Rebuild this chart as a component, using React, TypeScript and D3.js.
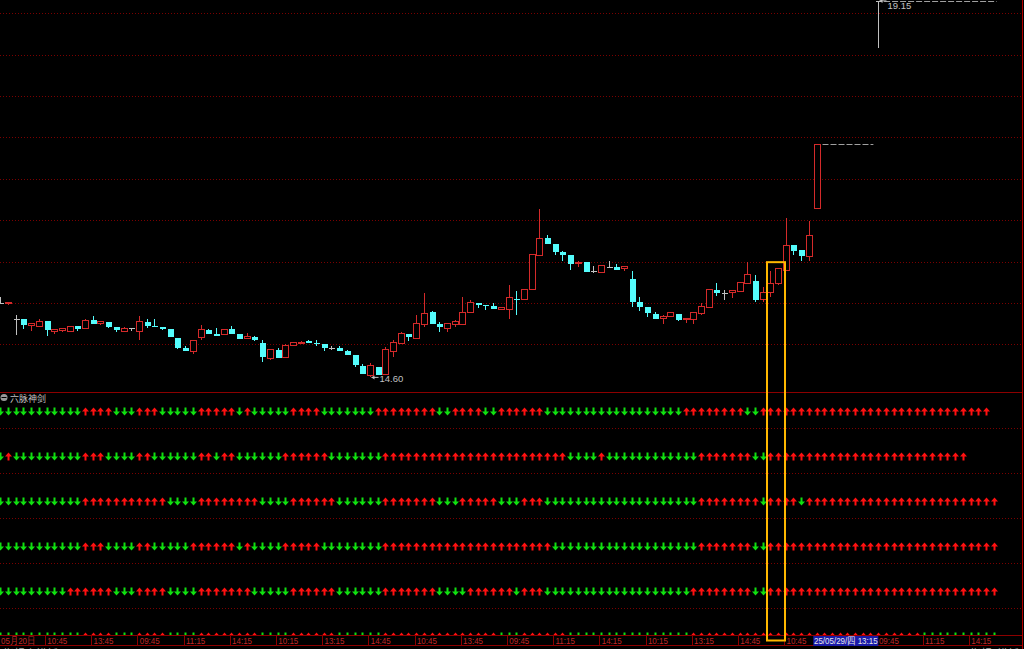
import { useMemo } from 'react';
import * as d3 from 'd3';

const W = 1024;
const H = 649;

// 15-minute candles. Slots 0..106 are consecutive, the last candle sits in slot 114
const opens = [
  15.5, 15.49, 15.3, 15.31, 15.23, 15.22, 15.28, 15.15, 15.17, 15.16, 15.22, 15.19, 15.29, 15.25, 15.27, 15.21,
  15.16, 15.2, 15.15, 15.27, 15.22, 15.21, 15.19, 15.08, 14.96, 14.91, 15.08, 15.17, 15.13, 15.12, 15.19, 15.12,
  15.07, 15.09, 15.01, 14.83, 14.93, 14.84, 14.99, 15.01, 15.04, 15.02, 15.0, 14.95, 14.96, 14.92, 14.87, 14.74,
  14.62, 14.73, 14.64, 14.91, 15.01, 15.13, 15.07, 15.24, 15.39, 15.25, 15.19, 15.24, 15.24, 15.39, 15.5, 15.48,
  15.46, 15.42, 15.42, 15.55, 15.54, 15.66, 16.07, 16.28, 16.21, 16.12, 16.08, 15.98, 15.99, 15.89, 15.87, 15.93,
  15.94, 15.91, 15.79, 15.51, 15.45, 15.37, 15.31, 15.33, 15.37, 15.3, 15.3, 15.37, 15.45, 15.66, 15.62, 15.62,
  15.64, 15.74, 15.77, 15.54, 15.62, 15.74, 15.89, 16.2, 16.14, 16.06, 16.64, 19.15,
];
const highs = [
  15.57, 15.51, 15.35, 15.31, 15.25, 15.3, 15.28, 15.18, 15.19, 15.22, 15.22, 15.3, 15.34, 15.27, 15.27, 15.21,
  15.21, 15.2, 15.34, 15.31, 15.31, 15.21, 15.19, 15.08, 14.98, 15.04, 15.23, 15.19, 15.2, 15.19, 15.22, 15.12,
  15.14, 15.1, 15.05, 14.94, 14.96, 15.0, 15.03, 15.04, 15.05, 15.05, 15.0, 14.98, 14.98, 14.93, 14.87, 14.76,
  14.77, 14.73, 14.97, 15.05, 15.15, 15.13, 15.35, 15.62, 15.4, 15.27, 15.25, 15.29, 15.57, 15.54, 15.5, 15.48,
  15.5, 15.44, 15.72, 15.64, 15.66, 16.08, 16.64, 16.32, 16.21, 16.13, 16.08, 16.01, 15.99, 15.95, 15.95, 16.01,
  15.97, 15.95, 15.89, 15.57, 15.45, 15.39, 15.36, 15.39, 15.37, 15.31, 15.38, 15.5, 15.67, 15.74, 15.66, 15.65,
  15.75, 16.0, 15.84, 15.69, 15.89, 15.92, 16.53, 16.2, 16.14, 16.49, 17.42, 19.15,
];
const lows = [
  15.49, 15.47, 15.11, 15.18, 15.16, 15.22, 15.1, 15.12, 15.15, 15.16, 15.16, 15.19, 15.25, 15.23, 15.2, 15.15,
  15.16, 15.16, 15.05, 15.2, 15.21, 15.17, 15.09, 14.94, 14.92, 14.88, 15.05, 15.13, 15.1, 15.12, 15.12, 15.06,
  15.07, 15.04, 14.79, 14.81, 14.83, 14.84, 14.98, 15.01, 15.01, 14.98, 14.92, 14.93, 14.92, 14.87, 14.72, 14.64,
  14.6, 14.63, 14.64, 14.85, 15.01, 15.04, 15.07, 15.21, 15.25, 15.15, 15.15, 15.21, 15.24, 15.39, 15.44, 15.42,
  15.43, 15.42, 15.31, 15.35, 15.54, 15.66, 16.07, 16.21, 16.08, 16.01, 15.9, 15.93, 15.87, 15.86, 15.87, 15.93,
  15.9, 15.89, 15.45, 15.4, 15.33, 15.31, 15.25, 15.33, 15.28, 15.26, 15.25, 15.35, 15.45, 15.58, 15.54, 15.56,
  15.64, 15.74, 15.51, 15.51, 15.57, 15.72, 15.89, 16.08, 16.01, 16.01, 16.64, 18.58,
];
const closes = [
  15.5, 15.51, 15.3, 15.23, 15.25, 15.27, 15.17, 15.18, 15.19, 15.22, 15.19, 15.29, 15.25, 15.27, 15.21, 15.17,
  15.19, 15.2, 15.27, 15.22, 15.21, 15.18, 15.09, 14.96, 14.92, 15.04, 15.18, 15.13, 15.1, 15.18, 15.12, 15.06,
  15.1, 15.05, 14.85, 14.94, 14.83, 14.99, 15.02, 15.02, 15.01, 15.01, 14.96, 14.95, 14.92, 14.87, 14.75, 14.64,
  14.74, 14.63, 14.94, 15.02, 15.13, 15.09, 15.25, 15.37, 15.25, 15.21, 15.25, 15.27, 15.39, 15.5, 15.47, 15.47,
  15.43, 15.44, 15.56, 15.54, 15.66, 16.08, 16.28, 16.21, 16.12, 16.08, 15.97, 15.99, 15.87, 15.89, 15.95, 15.93,
  15.9, 15.94, 15.51, 15.45, 15.38, 15.31, 15.34, 15.38, 15.29, 15.31, 15.38, 15.46, 15.66, 15.62, 15.62, 15.65,
  15.75, 15.84, 15.54, 15.62, 15.74, 15.91, 16.19, 16.13, 16.07, 16.31, 17.42, 19.15,
];
const candleSlots = [...d3.range(107), 114];

// daily limit-up price, drawn from the last candle of the session to the session end
const limitLines = [
  { price: 17.42, from: 106, to: 113 },
  { price: 19.15, from: 114, to: 129 },
];

const priceGrid = [15, 15.5, 16, 16.5, 17, 17.5, 18, 18.5, 19];

// 六脉神剑 signal rows, run-length: [U=up/red, D=down/green, count]
const sigRows: { level: number; runs: [string, number][] }[] = [
  { level: 6, runs: [['D', 11], ['U', 4], ['D', 3], ['U', 3], ['D', 5], ['U', 5], ['D', 1], ['U', 1], ['D', 5], ['U', 4], ['D', 7], ['U', 8], ['D', 2], ['U', 4], ['D', 2], ['U', 6], ['D', 18], ['U', 8], ['D', 2], ['U', 30]] },
  { level: 5, runs: [['D', 1], ['U', 1], ['D', 9], ['U', 3], ['D', 4], ['U', 2], ['D', 6], ['U', 2], ['D', 1], ['U', 2], ['D', 6], ['U', 6], ['D', 7], ['U', 24], ['D', 4], ['U', 1], ['D', 12], ['U', 7], ['D', 2], ['U', 26]] },
  { level: 4, runs: [['D', 11], ['U', 11], ['D', 4], ['U', 8], ['D', 4], ['U', 6], ['D', 6], ['U', 7], ['D', 3], ['U', 5], ['D', 3], ['U', 3], ['D', 20], ['U', 8], ['D', 1], ['U', 4], ['D', 1], ['U', 25]] },
  { level: 3, runs: [['D', 11], ['U', 3], ['D', 4], ['U', 2], ['D', 5], ['U', 6], ['D', 1], ['U', 1], ['D', 4], ['U', 5], ['D', 8], ['U', 22], ['D', 19], ['U', 7], ['D', 2], ['U', 30]] },
  { level: 2, runs: [['D', 9], ['U', 6], ['D', 3], ['U', 4], ['D', 4], ['U', 7], ['D', 5], ['U', 6], ['D', 6], ['U', 7], ['D', 4], ['U', 6], ['D', 1], ['U', 3], ['D', 19], ['U', 8], ['D', 2], ['U', 30]] },
  { level: 1, runs: [['D', 11], ['U', 4], ['D', 3], ['U', 4], ['D', 4], ['U', 8], ['D', 4], ['U', 6], ['D', 6], ['U', 15], ['D', 3], ['U', 6], ['D', 16], ['U', 30], ['D', 10]] },
];
const sigGrid = [1.57, 2.57, 3.57, 4.57, 5.57];

const timeLabels: [number, string][] = [
  [0, '05月20日'], [6, '10:45'], [12, '13:45'], [18, '09:45'], [24, '11:15'], [30, '14:15'], [36, '10:15'],
  [42, '13:15'], [48, '14:45'], [54, '10:45'], [60, '13:45'], [66, '09:45'], [72, '11:15'], [78, '14:15'],
  [84, '10:15'], [90, '13:15'], [96, '14:45'], [102, '10:45'], [108, '13:45'], [114, '09:45'], [120, '11:15'],
  [126, '14:15'],
];
const cursorSlot = 106;
const cursorText = '25/05/29/四 13:15';
const markedSlots = [100, 101];

const tabs = ['指标↑', '模板', 'MACD', 'DMI', 'DMA', 'FSL', 'TRIX', 'BRAR', 'CR', 'VR', 'OBV', 'ASI', 'EMV', 'WVAD', 'RSI', 'WR', 'SAR', 'KDJ', 'CCI', 'ROC', 'MTM', 'BOLL', 'PSY', 'MCST'];

const UP = '#d42a2a';
const DOWN = '#54fcfc';
const FLAT = '#c0c0c0';
const GRID = '#7a0000';
const AXIS = '#8c0000';
const SANS = "'Liberation Sans', Arial, sans-serif";

// axis text is a condensed face: plain sans squeezed horizontally
function Squeezed({ x, y, fill, children }: { x: number; y: number; fill: string; children: string }) {
  return (
    <text transform={`translate(${x},${y}) scale(0.84,1)`} fill={fill} fontSize={9.5} fontFamily={SANS}>
      {children}
    </text>
  );
}

export default function App() {
  const x = useMemo(() => d3.scaleLinear().domain([0, 129]).range([0.3, 993.6]), []);
  const y = useMemo(() => d3.scaleLinear().domain([15, 19]).range([344.3, 13.3]), []);
  const ys = useMemo(() => d3.scaleLinear().domain([1, 6]).range([634, 409]), []);

  const candles = candleSlots.map((slot, k) => ({ slot, o: opens[k], h: highs[k], l: lows[k], c: closes[k] }));
  const lowK = d3.minIndex(candles, (d) => d.l);
  const highK = d3.maxIndex(candles, (d) => d.h);

  const signals = sigRows.flatMap((row) => {
    const out: { slot: number; level: number; up: boolean }[] = [];
    let s = 0;
    row.runs.forEach(([dir, n]) => {
      for (let j = 0; j < n; j++) out.push({ slot: s++, level: row.level, up: dir === 'U' });
    });
    return out;
  });

  const px = (slot: number) => Math.round(x(slot)) + 0.5;

  // up arrow: head on top; down arrow: head at the bottom
  const arrow = (cx: number, cy: number, up: boolean) => {
    const t = up ? 1 : -1;
    const tip = cy - 4 * t;
    const base = cy;
    const tail = cy + 4 * t;
    return `M${cx},${tip}L${cx + 3.5},${base}L${cx + 1},${base}L${cx + 1},${tail}L${cx - 1},${tail}L${cx - 1},${base}L${cx - 3.5},${base}Z`;
  };

  const markTop = y(d3.max(markedSlots, (s) => highs[candleSlots.indexOf(s)]) ?? 16) - 6;
  const cursorX0 = x(cursorSlot) - 3.2;
  const cursorX1 = cursorX0 + 65;

  return (
    <div style={{ position: 'fixed', left: 0, top: 0, width: W, height: H, background: '#000' }}>
      <svg width={W} height={H} style={{ display: 'block' }}>
        <defs>
          <clipPath id="sigClip">
            <rect x={0} y={393} width={1022} height={242.5} />
          </clipPath>
        </defs>
        <rect width={W} height={H} fill="#000" />

        {/* price grid */}
        {priceGrid.map((p) => (
          <line key={p} x1={0} x2={1021} y1={Math.round(y(p)) + 0.5} y2={Math.round(y(p)) + 0.5} stroke={GRID} strokeDasharray="1 2" />
        ))}

        {/* candles */}
        <g shapeRendering="crispEdges">
          {candles.map((d) => {
            const cx = px(d.slot);
            const yo = y(d.o);
            const yc = y(d.c);
            const yh = y(d.h);
            const yl = y(d.l);
            if (d.c > d.o) {
              return (
                <g key={d.slot} stroke={UP}>
                  <line x1={cx} x2={cx} y1={yh} y2={yc} />
                  <line x1={cx} x2={cx} y1={yo} y2={yl} />
                  <rect x={cx - 3} y={yc} width={6} height={Math.max(yo - yc, 1)} fill="#000" />
                </g>
              );
            }
            if (d.c < d.o) {
              return (
                <g key={d.slot}>
                  <line x1={cx} x2={cx} y1={yh} y2={yl} stroke={DOWN} />
                  <rect x={cx - 3} y={yo} width={6} height={Math.max(yc - yo, 1)} fill={DOWN} />
                </g>
              );
            }
            return (
              <g key={d.slot} stroke={FLAT}>
                <line x1={cx} x2={cx} y1={yh} y2={yl} />
                <line x1={cx - 3} x2={cx + 3.5} y1={Math.round(yo) + 0.5} y2={Math.round(yo) + 0.5} />
              </g>
            );
          })}
        </g>

        {/* limit-up dashed lines */}
        {limitLines.map((d) => (
          <line key={d.price} x1={x(d.from) + 6} x2={x(d.to) + 3} y1={Math.round(y(d.price)) + 0.5} y2={Math.round(y(d.price)) + 0.5} stroke="#a0a0a0" strokeDasharray="6 2" />
        ))}

        {/* min / max markers */}
        {[lowK, highK].map((k, j) => {
          const d = candles[k];
          const cx = px(d.slot);
          const yy = j === 0 ? y(d.l) : y(d.h);
          const x0 = cx + 1;
          const x1 = cx + 8;
          return (
            <g key={k} stroke={FLAT} fill={FLAT}>
              <line x1={x0} x2={x1} y1={yy} y2={yy} />
              <path d={`M${x0},${yy}L${x0 + 3},${yy - 2}L${x0 + 3},${yy + 2}Z`} stroke="none" />
              <text x={x1 + 1} y={Math.max(yy + 4.5, 8.5)} stroke="none" fontSize={9.5} fontFamily={SANS}>
                {(j === 0 ? d.l : d.h).toFixed(2)}
              </text>
            </g>
          );
        })}

        {/* panel divider */}
        <line x1={0} x2={1022} y1={392.5} y2={392.5} stroke={AXIS} />

        {/* indicator panel */}
        <g>
          <circle cx={4} cy={397.5} r={3.5} fill="#9a9a9a" />
          <line x1={1.5} x2={6.5} y1={397.5} y2={397.5} stroke="#000" />
          <text x={10} y={401.5} fill="#c0c0c0" fontSize={9} fontFamily="'Noto Sans CJK SC', sans-serif">六脉神剑</text>
        </g>
        {sigGrid.map((v) => (
          <line key={v} x1={0} x2={1021} y1={Math.round(ys(v)) + 0.5} y2={Math.round(ys(v)) + 0.5} stroke={GRID} strokeDasharray="1 2" />
        ))}
        <g clipPath="url(#sigClip)">
          {signals.map((s) => (
            <path
              key={`${s.level}-${s.slot}`}
              d={arrow(px(s.slot), ys(s.level) + 2.5, s.up)}
              fill={s.up ? '#ff1010' : '#10e010'}
            />
          ))}
        </g>

        {/* time axis */}
        <line x1={0} x2={1022} y1={635.5} y2={635.5} stroke={AXIS} />
        <line x1={0} x2={1022} y1={645.5} y2={645.5} stroke={AXIS} />
        {timeLabels
          .filter(([slot]) => x(slot) + 20 < cursorX0 || x(slot) > cursorX1 - 1)
          .map(([slot, t]) => (
            <g key={slot}>
              <line x1={Math.round(x(slot) - 1.5) + 0.5} x2={Math.round(x(slot) - 1.5) + 0.5} y1={636} y2={646} stroke={AXIS} />
              <Squeezed x={x(slot) + 0.8} y={644} fill="#c02828">{t}</Squeezed>
            </g>
          ))}
        <rect x={cursorX0} y={636} width={cursorX1 - cursorX0} height={10} fill="#1a1aa8" />
        <Squeezed x={cursorX0 + 0.7} y={644} fill="#e8e8e8">{cursorText}</Squeezed>

        {/* tab strip (mostly below the visible area) */}
        {tabs.map((t, i) => (
          <text key={t} x={3 + i * 33} y={657.5} fill="#a8a8a8" fontSize={11} fontFamily="'Noto Sans CJK SC', sans-serif">
            {t}
          </text>
        ))}
        <text x={970} y={657.5} fill="#a8a8a8" fontSize={11} fontFamily="'Noto Sans CJK SC', sans-serif">指标</text>
        <text x={997} y={657.5} fill="#a8a8a8" fontSize={11} fontFamily="'Noto Sans CJK SC', sans-serif">模板</text>

        {/* right border */}
        <line x1={1022.5} x2={1022.5} y1={0} y2={H} stroke="#b00000" />

        {/* marked column */}
        <rect
          x={px(markedSlots[0]) - 3.5}
          y={markTop}
          width={px(markedSlots[1]) - px(markedSlots[0]) + 10}
          height={640.5 - markTop}
          fill="none"
          stroke="#ffb800"
          strokeWidth={2}
        />
      </svg>
    </div>
  );
}
